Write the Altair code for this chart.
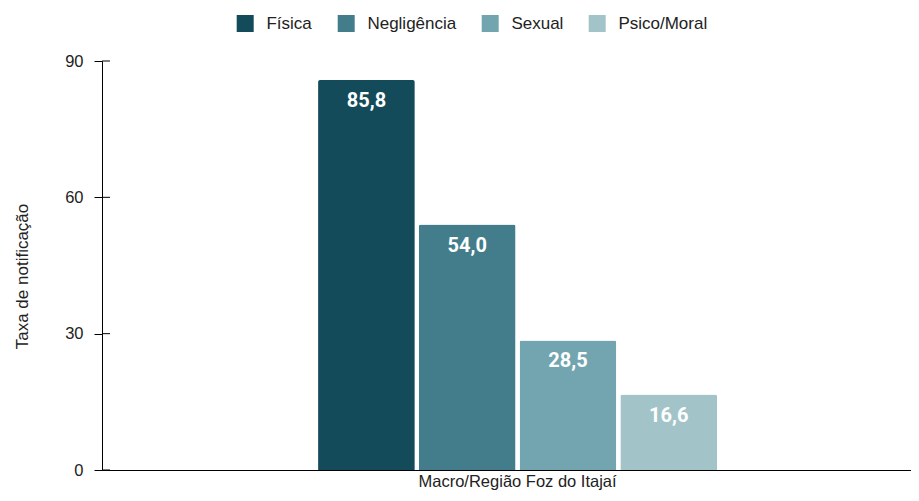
import altair as alt
import pandas as pd

# ---- data ----
region = "Macro/Região Foz do Itajaí"
categories = ["Física", "Negligência", "Sexual", "Psico/Moral"]
values = [85.8, 54.0, 28.5, 16.6]
colors = ["#134B5B", "#437D8B", "#72A5AF", "#A2C4C8"]
y_ticks = [0, 30, 60, 90]

labels = [f"{v:.1f}".replace(".", ",") for v in values]
df = pd.DataFrame({
    "regiao": [region] * len(categories),
    "categoria": categories,
    "valor": values,
    "rotulo": labels,
})
tick_df = pd.DataFrame({"t": y_ticks})

FONT = "Liberation Sans"

y_scale = alt.Scale(domain=[0, 90], nice=False)

base = alt.Chart(df).encode(
    x=alt.X(
        "regiao:N",
        title=None,
        scale=alt.Scale(paddingInner=0, paddingOuter=0.5138, align=0.527),
        axis=alt.Axis(
            labelAngle=0, ticks=False, labelPadding=3, labelFontSize=16.5,
            labelFont=FONT, labelColor="#222222", domainColor="#000000",
            domainWidth=1, labelLimit=0,
        ),
    ),
    xOffset=alt.XOffset(
        "categoria:N", sort=categories,
        scale=alt.Scale(paddingInner=0.04, paddingOuter=0),
    ),
)

bars = base.mark_bar(cornerRadiusTopLeft=2, cornerRadiusTopRight=2).encode(
    y=alt.Y(
        "valor:Q",
        scale=y_scale,
        axis=alt.Axis(
            values=y_ticks, title="Taxa de notificação", grid=False,
            tickSize=8, tickColor="#000000", domainColor="#000000",
            labelPadding=11, labelFontSize=16.5, labelFont=FONT,
            labelColor="#222222", titleFont=FONT, titleFontSize=17,
            titleFontWeight="normal", titleColor="#222222",
            titlePadding=33, titleY=215,
        ),
    ),
    color=alt.Color(
        "categoria:N",
        sort=categories,
        scale=alt.Scale(domain=categories, range=colors),
        legend=alt.Legend(
            title=None, orient="none", legendX=134.7, legendY=-46,
            direction="horizontal", symbolType="square", symbolSize=289,
            symbolStrokeWidth=0, labelFont=FONT, labelFontSize=17,
            labelColor="#222222", labelOffset=12.7, columnPadding=25,
            padding=0,
        ),
    ),
)

text = base.mark_text(
    dy=21, baseline="middle", font="Roboto", fontWeight="bold",
    fontSize=20, color="white",
).encode(
    y=alt.Y("valor:Q", scale=y_scale),
    text="rotulo:N",
)

inner_ticks = alt.Chart(tick_df).mark_rule(color="#000000").encode(
    y=alt.Y("t:Q", scale=y_scale),
    x=alt.value(0),
    x2=alt.value(8),
)

chart = alt.layer(bars, text, inner_ticks).properties(
    width=809,
    height=409,
    autosize=alt.AutoSizeParams(type="none"),
    padding={"left": 94, "top": 53, "right": 0, "bottom": 23},
    background="white",
).configure_view(stroke=None)

chart.save("out.html", embed_options={"renderer": "svg", "actions": False})
